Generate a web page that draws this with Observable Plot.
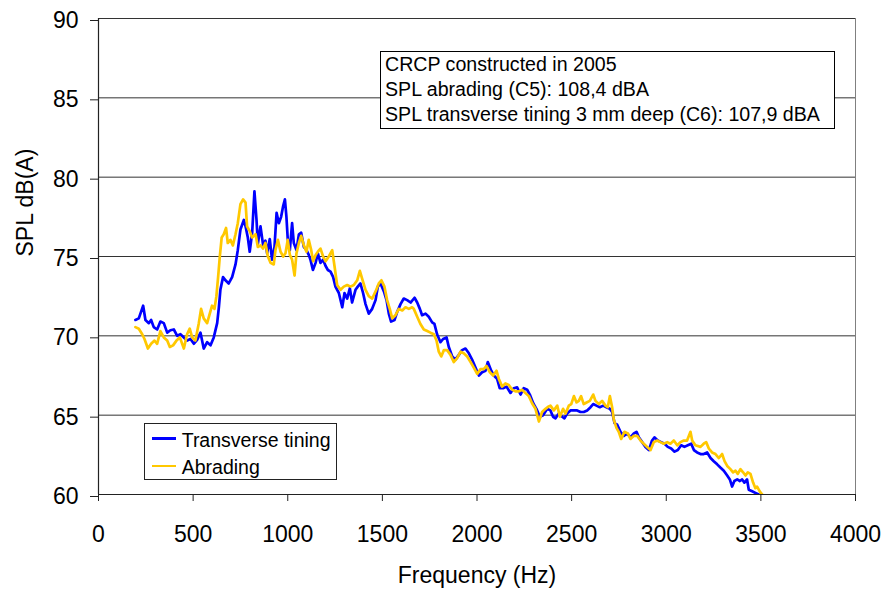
<!DOCTYPE html>
<html>
<head>
<meta charset="utf-8">
<script src="https://cdn.jsdelivr.net/npm/d3@7"></script>
<script src="https://cdn.jsdelivr.net/npm/@observablehq/plot@0.6"></script>
<style>
  html, body { margin: 0; padding: 0; background: #fff; }
  #wrap { position: relative; width: 886px; height: 590px; font-family: "Liberation Sans", Arial, Helvetica, sans-serif; color: #000; }
  #wrap svg { position: absolute; left: 0; top: 0; }
  #note { position: absolute; left: 380px; top: 51px; width: 455px; height: 78px; box-sizing: border-box;
          border: 1px solid #000; background: #fff; font-size: 19.6px; line-height: 25px; padding-left: 4px; white-space: nowrap; }
  #legend { position: absolute; left: 144px; top: 423px; width: 193px; height: 57px; box-sizing: border-box;
            border: 1px solid #222; background: #fff; font-size: 19.5px; }
  .sw { position: absolute; left: 6.7px; width: 24.5px; height: 2.5px; }
  .lt { position: absolute; left: 36.7px; line-height: 20px; white-space: nowrap; }
</style>
</head>
<body>
<div id="wrap"></div>
<script>
// ---- Data ----
const seriesNames = ["Transverse tining", "Abrading"];
const seriesColors = ["#0000ff", "#ffc800"];
const xTicks = [0, 500, 1000, 1500, 2000, 2500, 3000, 3500, 4000];
const yTicks = [60, 65, 70, 75, 80, 85, 90];
const noteLines = [
  "CRCP constructed in 2005",
  "SPL abrading (C5): 108,4 dBA",
  "SPL transverse tining 3 mm deep (C6): 107,9 dBA"
];
const xLabel = "Frequency (Hz)";
const yLabel = "SPL dB(A)";

const transverseHz = [195,213,236,248,266,278,292,310,327,345,363,380,398,416,433,451,468,486,504,521,539,556,574,592,609,627,636,644,658,671,688,706,724,736,750,768,777,789,799,812,824,835,842,856,870,882,891,905,917,930,941,953,965,976,985,993,1000,1011,1023,1032,1046,1059,1071,1085,1099,1111,1120,1133,1147,1159,1173,1187,1200,1212,1226,1240,1252,1270,1288,1300,1314,1328,1340,1358,1370,1384,1398,1411,1428,1446,1464,1476,1490,1508,1522,1534,1546,1564,1578,1596,1613,1631,1649,1670,1684,1698,1710,1728,1745,1763,1775,1789,1807,1821,1839,1851,1869,1886,1904,1921,1939,1957,1974,1992,2010,2027,2045,2057,2075,2089,2106,2120,2138,2156,2177,2194,2212,2230,2247,2265,2279,2297,2314,2332,2349,2371,2388,2402,2415,2432,2450,2462,2476,2494,2512,2529,2547,2564,2582,2600,2614,2631,2649,2667,2684,2702,2714,2727,2741,2758,2776,2793,2811,2829,2843,2855,2873,2890,2908,2925,2938,2955,2973,2991,3008,3026,3044,3061,3079,3096,3114,3132,3146,3163,3181,3198,3216,3234,3251,3269,3286,3304,3322,3336,3348,3360,3375,3389,3401,3413,3427,3436,3454,3471,3489,3501];
const transverseDb = [71.0,71.1,71.9,71.0,70.8,71.0,70.55,70.4,70.9,70.8,70.2,70.35,70.4,70.0,70.1,69.9,69.7,69.8,69.5,69.75,70.2,69.2,69.6,69.4,69.9,70.8,71.8,72.9,73.7,73.5,73.3,73.7,74.5,75.4,76.7,77.3,76.9,76.2,75.3,76.5,79.1,77.3,75.8,76.9,75.7,76.0,75.2,76.1,74.8,75.6,77.75,77.1,77.5,78.2,78.6,77.5,76.1,75.4,77.1,75.85,75.4,76.4,76.5,75.6,75.4,75.1,74.8,74.15,74.6,75.2,74.6,74.8,74.4,74.15,74.05,73.7,73.1,72.7,71.8,72.7,72.35,73.0,72.1,72.9,73.1,73.3,72.7,72.0,71.4,71.7,72.25,73.1,73.3,72.8,72.25,71.4,70.9,71.0,71.5,72.0,72.35,72.25,72.1,72.4,72.1,71.7,71.3,71.4,71.2,70.85,70.75,70.1,69.6,69.8,69.9,69.3,68.7,68.5,68.8,69.1,69.2,68.9,68.5,68.0,67.5,67.7,67.8,68.35,67.8,67.5,67.3,66.7,66.7,66.8,66.4,66.7,66.75,66.3,66.7,66.6,66.3,65.75,65.4,64.9,65.0,65.4,65.3,64.9,64.8,65.1,64.9,64.8,65.1,65.3,65.3,65.3,65.2,65.2,65.3,65.5,65.7,65.6,65.5,65.6,65.5,65.4,65.2,64.5,64.4,63.95,63.7,63.85,63.6,63.85,63.95,63.6,63.3,63.0,62.8,63.4,63.6,63.4,63.3,63.2,63.0,62.9,62.7,62.8,63.1,63.0,63.1,63.2,62.8,62.65,62.55,62.55,62.65,62.3,62.1,61.9,61.7,61.5,61.2,60.95,60.5,60.85,60.95,60.85,60.95,60.75,60.95,60.3,60.2,60.1,60.0,59.9];

const abradingHz = [195,213,231,243,261,278,296,310,327,345,363,377,394,412,430,442,451,468,482,495,512,530,542,556,574,588,600,613,623,632,641,651,662,674,683,697,710,724,736,750,764,777,785,799,812,830,842,856,870,882,895,909,926,935,948,962,976,988,1000,1011,1023,1036,1046,1059,1071,1085,1099,1111,1124,1134,1147,1159,1173,1187,1200,1217,1235,1247,1261,1279,1296,1314,1332,1349,1367,1381,1393,1411,1428,1446,1464,1481,1495,1511,1525,1539,1552,1569,1587,1605,1622,1640,1657,1666,1684,1701,1719,1737,1754,1772,1786,1798,1811,1825,1842,1860,1877,1895,1913,1930,1948,1966,1983,2001,2018,2036,2050,2068,2085,2103,2115,2133,2150,2168,2186,2203,2221,2238,2256,2274,2291,2309,2327,2344,2362,2379,2388,2406,2424,2438,2455,2468,2485,2498,2512,2526,2538,2550,2564,2579,2596,2614,2626,2644,2661,2679,2691,2702,2714,2723,2737,2749,2762,2779,2797,2811,2829,2846,2864,2881,2899,2917,2934,2952,2969,2987,3005,3022,3040,3058,3075,3093,3110,3128,3137,3154,3181,3198,3211,3225,3242,3260,3278,3295,3308,3322,3339,3353,3366,3378,3392,3406,3419,3431,3445,3459,3471,3480,3494,3507,3519];
const abradingDb = [70.55,70.45,70.1,69.8,69.2,69.5,69.7,69.5,70.3,69.9,69.7,69.3,69.4,69.7,69.9,69.5,69.2,70.1,70.45,69.9,69.7,70.8,71.7,71.1,70.8,71.4,71.9,71.7,72.5,73.7,75.0,76.2,76.4,76.8,75.85,76.05,75.7,76.4,77.1,78.3,78.6,78.4,76.9,76.6,76.2,76.4,75.6,75.7,75.5,75.85,75.0,74.6,74.5,75.4,76.05,75.3,75.0,75.2,76.05,75.1,74.8,73.8,75.2,75.85,76.3,75.7,75.3,76.05,75.4,74.7,75.1,75.3,75.5,75.0,74.7,75.0,75.4,74.4,73.2,72.9,73.1,73.2,73.1,73.2,73.5,74.1,73.6,72.9,72.5,72.35,72.8,73.3,73.5,73.1,72.25,71.7,71.1,71.3,71.7,71.6,71.8,71.7,71.8,71.7,71.2,70.75,70.4,70.3,70.2,70.1,69.7,69.0,68.7,69.1,69.1,68.8,68.35,68.6,69.0,68.9,68.7,68.35,68.0,67.6,67.9,67.9,68.1,67.7,67.5,67.8,67.3,66.8,67.0,66.9,66.6,66.5,66.5,66.6,66.4,66.2,65.75,65.4,64.6,65.2,65.4,65.55,65.6,65.3,65.6,64.9,65.4,65.1,65.6,65.7,66.2,65.8,65.9,66.2,65.7,65.8,65.9,66.3,65.9,65.7,65.9,65.6,65.5,66.2,65.5,64.7,64.2,63.95,63.5,63.95,63.85,63.5,63.7,63.7,63.4,63.2,63.0,62.8,63.3,63.4,63.3,63.2,63.3,63.2,63.4,63.1,63.3,63.4,63.4,63.95,63.4,63.1,63.0,63.2,63.3,62.9,62.65,62.55,62.3,62.55,62.1,61.8,61.6,61.4,61.5,61.3,61.6,61.4,61.2,61.4,61.3,60.75,60.4,60.5,60.2,60.0,59.9];

// ---- Build tables ----
const transverse = transverseHz.map((f, i) => ({f, db: transverseDb[i]}));
const abrading = abradingHz.map((f, i) => ({f, db: abradingDb[i]}));

const FONT = "'Liberation Sans', Arial, Helvetica, sans-serif";

const chart = Plot.plot({
  width: 886,
  height: 590,
  marginLeft: 98,
  marginRight: 31,
  marginTop: 18,
  marginBottom: 96,
  style: {fontFamily: FONT, fontSize: "23px", color: "#000", background: "#fff", overflow: "visible"},
  x: {domain: [xTicks[0], xTicks[xTicks.length - 1]]},
  y: {domain: [yTicks[0], yTicks[yTicks.length - 1]]},
  marks: [
    Plot.gridY(yTicks, {stroke: "#333", strokeOpacity: 1, strokeWidth: 1}),
    Plot.ruleX([xTicks[xTicks.length - 1]], {stroke: "#808080", strokeWidth: 1}),
    Plot.line(transverse, {x: "f", y: "db", stroke: seriesColors[0], strokeWidth: 2.7, clip: true}),
    Plot.line(abrading, {x: "f", y: "db", stroke: seriesColors[1], strokeWidth: 2.7, clip: true}),
    Plot.ruleX([xTicks[0]], {stroke: "#222", strokeWidth: 1.2}),
    Plot.ruleY([yTicks[0]], {stroke: "#222", strokeWidth: 1.2}),
    Plot.axisY(yTicks, {tickSize: 8, tickPadding: 12, label: null, fontSize: 23, dy: 2, stroke: "#222", tickFormat: d => String(d)}),
    Plot.axisX(xTicks, {tickSize: 7, tickPadding: 24, label: null, fontSize: 23, stroke: "#222", tickFormat: d => String(d)}),
    Plot.text([xLabel], {text: d => d, frameAnchor: "bottom", dy: 81, fontSize: 23, lineAnchor: "middle"}),
    Plot.text([yLabel], {text: d => d, frameAnchor: "left", dx: -73, rotate: -90, fontSize: 23, lineAnchor: "middle"})
  ]
});

const wrap = document.getElementById("wrap");
wrap.appendChild(chart);

// Annotation box
const note = document.createElement("div");
note.id = "note";
noteLines.forEach(t => { const d = document.createElement("div"); d.textContent = t; note.appendChild(d); });
wrap.appendChild(note);

// Legend box
const legend = document.createElement("div");
legend.id = "legend";
const swTops = [13, 40.7];
const txtTops = [5.5, 32.8];
seriesNames.forEach((name, i) => {
  const sw = document.createElement("div");
  sw.className = "sw";
  sw.style.top = swTops[i] + "px";
  sw.style.background = seriesColors[i];
  legend.appendChild(sw);
  const tx = document.createElement("div");
  tx.className = "lt";
  tx.style.top = txtTops[i] + "px";
  tx.textContent = name;
  legend.appendChild(tx);
});
wrap.appendChild(legend);
</script>
</body>
</html>
